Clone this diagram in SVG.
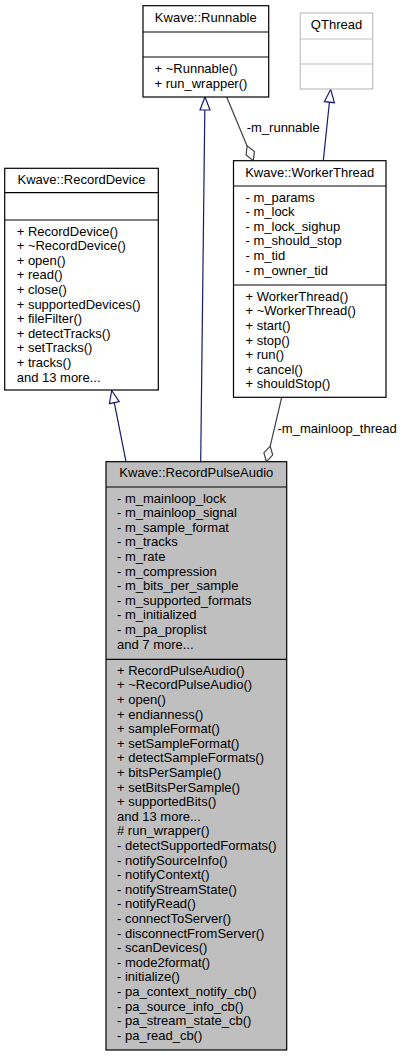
<svg xmlns="http://www.w3.org/2000/svg" width="401" height="1057" viewBox="0 0 401 1057">
<style>
text{font-family:"Liberation Sans",Arial,Helvetica,sans-serif;font-size:13px;fill:#000}
.t{text-anchor:middle}
.box{fill:#fff;stroke:#000;stroke-width:1.2}
.sep{stroke:#000;stroke-width:1.2}
.gbox{fill:#fff;stroke:#bfbfbf;stroke-width:1.2}
.gsep{stroke:#bfbfbf;stroke-width:1.2}
.inh{fill:none;stroke:#191970;stroke-width:1.2}
.inhh{fill:#fff;stroke:#191970;stroke-width:1.2}
.agg{fill:none;stroke:#404040;stroke-width:1.2}
.aggh{fill:#fff;stroke:#404040;stroke-width:1.2}
</style>
<rect width="401" height="1057" fill="#fff"/>
<g id="connectors">
  <path class="inh" d="M126,461.7 L114.3,402.7"/>
  <polygon class="inhh" points="111.7,390.5 119.2,401.7 109.4,403.7"/>
  <path class="inh" d="M200.7,461.7 L204.8,110"/>
  <polygon class="inhh" points="205,97 210,110 200,110"/>
  <path class="inh" d="M323.3,160.7 L329.4,102.2"/>
  <polygon class="inhh" points="330.7,89.3 334.4,102.7 324.4,101.7"/>
  <path class="agg" d="M226.7,97 L247.1,145.9"/>
  <polygon class="aggh" points="253.3,160.7 254.4,151.6 247.1,145.9 246.1,155"/>
  <text x="246.7" y="132">-m_runnable</text>
  <path class="agg" d="M281.7,397.3 L270.2,446.1"/>
  <polygon class="aggh" points="266.5,461.7 272.7,454.9 270.2,446.1 263.9,452.9"/>
  <text x="277.5" y="433">-m_mainloop_thread</text>
</g>
<g id="Runnable">
  <rect class="box" x="143" y="5.7" width="125.7" height="91.3"/>
  <line class="sep" x1="143" y1="32" x2="268.7" y2="32"/>
  <line class="sep" x1="143" y1="57" x2="268.7" y2="57"/>
  <text class="t" x="205.8" y="21.5">Kwave::Runnable</text>
  <text x="154.5" y="73">+ ~Runnable()</text>
  <text x="154.5" y="87.6">+ run_wrapper()</text>
</g>
<g id="QThread">
  <rect class="gbox" x="300.3" y="13" width="72.4" height="76"/>
  <line class="gsep" x1="300.3" y1="39" x2="372.7" y2="39"/>
  <line class="gsep" x1="300.3" y1="64" x2="372.7" y2="64"/>
  <text class="t" x="336.5" y="29">QThread</text>
</g>
<g id="WorkerThread">
  <rect class="box" x="233.5" y="160.7" width="152.5" height="236.6"/>
  <line class="sep" x1="233.5" y1="186" x2="386" y2="186"/>
  <line class="sep" x1="233.5" y1="285" x2="386" y2="285"/>
  <text class="t" x="309.75" y="176.5">Kwave::WorkerThread</text>
  <text x="245.5" y="201.5">- m_params</text>
  <text x="245.5" y="216.1">- m_lock</text>
  <text x="245.5" y="230.7">- m_lock_sighup</text>
  <text x="245.5" y="245.3">- m_should_stop</text>
  <text x="245.5" y="259.9">- m_tid</text>
  <text x="245.5" y="274.5">- m_owner_tid</text>
  <text x="245.5" y="300.7">+ WorkerThread()</text>
  <text x="245.5" y="315.3">+ ~WorkerThread()</text>
  <text x="245.5" y="329.9">+ start()</text>
  <text x="245.5" y="344.5">+ stop()</text>
  <text x="245.5" y="359.1">+ run()</text>
  <text x="245.5" y="373.7">+ cancel()</text>
  <text x="245.5" y="388.3">+ shouldStop()</text>
</g>
<g id="RecordDevice">
  <rect class="box" x="4.7" y="168.3" width="153.6" height="221.7"/>
  <line class="sep" x1="4.7" y1="192.7" x2="158.3" y2="192.7"/>
  <line class="sep" x1="4.7" y1="220" x2="158.3" y2="220"/>
  <text class="t" x="81.5" y="184">Kwave::RecordDevice</text>
  <text x="16.7" y="235.5">+ RecordDevice()</text>
  <text x="16.7" y="250.1">+ ~RecordDevice()</text>
  <text x="16.7" y="264.7">+ open()</text>
  <text x="16.7" y="279.3">+ read()</text>
  <text x="16.7" y="293.9">+ close()</text>
  <text x="16.7" y="308.5">+ supportedDevices()</text>
  <text x="16.7" y="323.1">+ fileFilter()</text>
  <text x="16.7" y="337.7">+ detectTracks()</text>
  <text x="16.7" y="352.3">+ setTracks()</text>
  <text x="16.7" y="366.9">+ tracks()</text>
  <text x="16.7" y="381.5">and 13 more...</text>
</g>
<g id="RecordPulseAudio">
  <rect x="106" y="461.7" width="180.7" height="588.3" fill="#bfbfbf" stroke="#000" stroke-width="1.2"/>
  <line class="sep" x1="106" y1="487" x2="286.7" y2="487"/>
  <line class="sep" x1="106" y1="659.3" x2="286.7" y2="659.3"/>
  <text class="t" x="196.3" y="477.3">Kwave::RecordPulseAudio</text>
  <text x="117" y="502.5">- m_mainloop_lock</text>
  <text x="117" y="517.1">- m_mainloop_signal</text>
  <text x="117" y="531.7">- m_sample_format</text>
  <text x="117" y="546.3">- m_tracks</text>
  <text x="117" y="560.9">- m_rate</text>
  <text x="117" y="575.5">- m_compression</text>
  <text x="117" y="590.1">- m_bits_per_sample</text>
  <text x="117" y="604.7">- m_supported_formats</text>
  <text x="117" y="619.3">- m_initialized</text>
  <text x="117" y="633.9">- m_pa_proplist</text>
  <text x="117" y="648.5">and 7 more...</text>
  <text x="117" y="674.8">+ RecordPulseAudio()</text>
  <text x="117" y="689.4">+ ~RecordPulseAudio()</text>
  <text x="117" y="704">+ open()</text>
  <text x="117" y="718.6">+ endianness()</text>
  <text x="117" y="733.2">+ sampleFormat()</text>
  <text x="117" y="747.8">+ setSampleFormat()</text>
  <text x="117" y="762.4">+ detectSampleFormats()</text>
  <text x="117" y="777">+ bitsPerSample()</text>
  <text x="117" y="791.6">+ setBitsPerSample()</text>
  <text x="117" y="806.2">+ supportedBits()</text>
  <text x="117" y="820.8">and 13 more...</text>
  <text x="117" y="835.4"># run_wrapper()</text>
  <text x="117" y="850">- detectSupportedFormats()</text>
  <text x="117" y="864.6">- notifySourceInfo()</text>
  <text x="117" y="879.2">- notifyContext()</text>
  <text x="117" y="893.8">- notifyStreamState()</text>
  <text x="117" y="908.4">- notifyRead()</text>
  <text x="117" y="923">- connectToServer()</text>
  <text x="117" y="937.6">- disconnectFromServer()</text>
  <text x="117" y="952.2">- scanDevices()</text>
  <text x="117" y="966.8">- mode2format()</text>
  <text x="117" y="981.4">- initialize()</text>
  <text x="117" y="996">- pa_context_notify_cb()</text>
  <text x="117" y="1010.6">- pa_source_info_cb()</text>
  <text x="117" y="1025.2">- pa_stream_state_cb()</text>
  <text x="117" y="1039.8">- pa_read_cb()</text>
</g>
</svg>
